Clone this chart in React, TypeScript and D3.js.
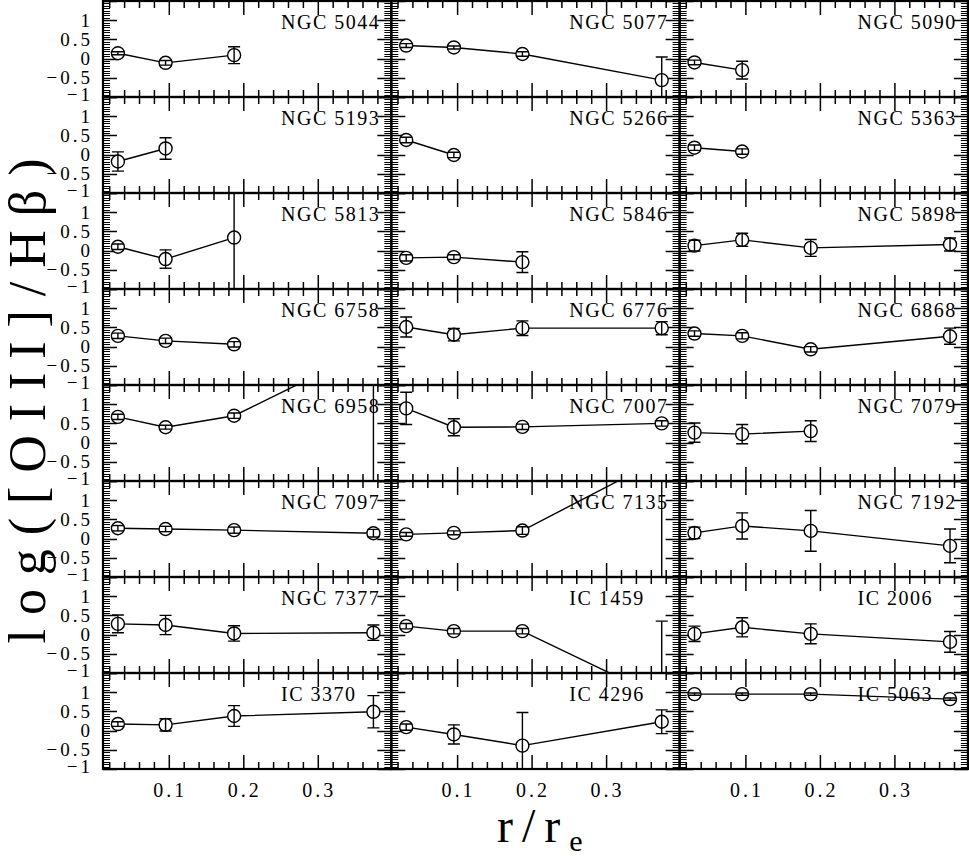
import React, { useEffect, useRef } from 'react'
import * as d3 from 'd3'

// one panel per galaxy, read left to right, top to bottom
const galaxies = [
  'NGC 5044', 'NGC 5077', 'NGC 5090',
  'NGC 5193', 'NGC 5266', 'NGC 5363',
  'NGC 5813', 'NGC 5846', 'NGC 5898',
  'NGC 6758', 'NGC 6776', 'NGC 6868',
  'NGC 6958', 'NGC 7007', 'NGC 7079',
  'NGC 7097', 'NGC 7135', 'NGC 7192',
  'NGC 7377', 'IC 1459', 'IC 2006',
  'IC 3370', 'IC 4296', 'IC 5063',
]

// r / r_e of the apertures
const radii = [0.031, 0.095, 0.187, 0.374]

// log([OIII]/Hb) per galaxy, one value per aperture
const logRatio = [
  [0.14, -0.11, 0.09],
  [0.34, 0.29, 0.12, -0.56],
  [-0.10, -0.30],
  [-0.18, 0.16],
  [0.38, -0.01],
  [0.18, 0.08],
  [0.10, -0.22, 0.34],
  [-0.19, -0.17, -0.30],
  [0.13, 0.28, 0.07, 0.16],
  [0.28, 0.15, 0.06],
  [0.51, 0.31, 0.48, 0.48],
  [0.34, 0.28, -0.07, 0.27],
  [0.67, 0.40, 0.70, 2.48],
  [0.89, 0.40, 0.41, 0.50],
  [0.26, 0.22, 0.30],
  [0.27, 0.25, 0.22, 0.14],
  [0.11, 0.15, 0.21, 2.09],
  [0.15, 0.33, 0.20, -0.19],
  [0.28, 0.25, 0.03, 0.05],
  [0.22, 0.09, 0.09, -1.65],
  [0.02, 0.19, 0.02, -0.19],
  [0.17, 0.15, 0.38, 0.49],
  [0.09, -0.10, -0.39, 0.23],
  [0.95, 0.95, 0.95, 0.82],
]

const logRatioErr = [
  [0.04, 0.06, 0.22],
  [0.05, 0.04, 0.06, 0.6],
  [0.06, 0.23],
  [0.25, 0.28],
  [0.07, 0.07],
  [0.07, 0.07],
  [0.07, 0.24, 2.5],
  [0.08, 0.06, 0.27],
  [0.14, 0.17, 0.22, 0.17],
  [0.07, 0.07, 0.07],
  [0.26, 0.16, 0.19, 0.17],
  [0.07, 0.08, 0.07, 0.21],
  [0.07, 0.05, 0.07, 4.0],
  [0.42, 0.22, 0.07, 0.07],
  [0.25, 0.25, 0.27],
  [0.07, 0.07, 0.08, 0.1],
  [0.05, 0.05, 0.1, 3.5],
  [0.15, 0.34, 0.53, 0.44],
  [0.23, 0.25, 0.2, 0.2],
  [0.07, 0.07, 0.07, 2.0],
  [0.2, 0.25, 0.26, 0.27],
  [0.06, 0.16, 0.27, 0.42],
  [0.08, 0.25, 0.86, 0.31],
  [0.03, 0.03, 0.03, 0.03],
]

const xTickLabels = [0.1, 0.2, 0.3]
const yTickLabels = [-1, -0.5, 0, 0.5, 1]

const W = 969
const H = 859
const left = 103
const top = 1
const colW = 288.3
const rowH = 96
const nCols = 3
const nRows = 8
const font = '"Liberation Serif", "DejaVu Serif", serif'

function fmt(v: number) {
  return (v < 0 ? '\u2212' : '') + String(Math.abs(v))
}

export default function App() {
  const ref = useRef<SVGSVGElement>(null)

  useEffect(() => {
    const svg = d3.select(ref.current)
    svg.selectAll('*').remove()

    const x = d3.scaleLinear().domain([0.011, 0.398]).range([0, colW])
    const y = d3.scaleLinear().domain([-1, 1.5]).range([rowH, 0])

    const xMinor = d3.range(0.02, 0.39, 0.02)
    const yMinor = d3.range(-1, 1.51, 0.0625)
    const yMajor = [-1, -0.5, 0, 0.5, 1, 1.5]

    svg.append('defs').append('clipPath')
      .attr('id', 'panel-clip')
      .append('rect')
      .attr('width', colW)
      .attr('height', rowH)

    galaxies.forEach((name, i) => {
      const col = i % nCols
      const row = Math.floor(i / nCols)
      const g = svg.append('g')
        .attr('transform', `translate(${left + col * colW},${top + row * rowH})`)

      // ticks, all pointing inward from the four sides
      const ticks = g.append('g').attr('stroke', '#000')
      xMinor.forEach(t => {
        const major = Math.abs(t * 10 - Math.round(t * 10)) < 1e-6
        const len = major ? 14 : 7
        ticks.append('line').attr('x1', x(t)).attr('x2', x(t)).attr('y1', rowH).attr('y2', rowH - len)
          .attr('stroke-width', 1.5)
        ticks.append('line').attr('x1', x(t)).attr('x2', x(t)).attr('y1', 0).attr('y2', len)
          .attr('stroke-width', 1.5)
      })
      yMinor.forEach(t => {
        const major = yMajor.some(m => Math.abs(m - t) < 1e-6)
        const len = major ? 14 : 7
        const yy = Math.round(y(t)) + 0.5
        ticks.append('line').attr('x1', 0).attr('x2', len).attr('y1', yy).attr('y2', yy)
          .attr('stroke-width', major ? 1.5 : 1)
        ticks.append('line').attr('x1', colW).attr('x2', colW - len).attr('y1', yy).attr('y2', yy)
          .attr('stroke-width', major ? 1.5 : 1)
      })

      g.append('rect')
        .attr('width', colW)
        .attr('height', rowH)
        .attr('fill', 'none')
        .attr('stroke', '#000')
        .attr('stroke-width', 2.2)

      // data
      const pts = logRatio[i].map((v, k) => ({ r: radii[k], v, e: logRatioErr[i][k] }))
      const data = g.append('g').attr('clip-path', 'url(#panel-clip)')
      data.append('path')
        .attr('d', d3.line<any>().x(d => x(d.r)).y(d => y(d.v))(pts))
        .attr('fill', 'none')
        .attr('stroke', '#000')
        .attr('stroke-width', 1.4)
      pts.forEach(p => {
        data.append('circle')
          .attr('cx', x(p.r))
          .attr('cy', y(p.v))
          .attr('r', 6.5)
          .attr('fill', '#fff')
          .attr('stroke', '#000')
          .attr('stroke-width', 1.4)
        const bar = data.append('g').attr('stroke', '#000').attr('stroke-width', 1.4)
        bar.append('line')
          .attr('x1', x(p.r)).attr('x2', x(p.r))
          .attr('y1', y(p.v - p.e)).attr('y2', y(p.v + p.e))
        ;[p.v - p.e, p.v + p.e].forEach(c => {
          bar.append('line')
            .attr('x1', x(p.r) - 6).attr('x2', x(p.r) + 6)
            .attr('y1', y(c)).attr('y2', y(c))
        })
      })

      g.append('text')
        .attr('x', 178)
        .attr('y', 28)
        .attr('font-family', font)
        .attr('font-size', 20)
        .attr('letter-spacing', 1.5)
        .text(name)

      if (col === 0) {
        yTickLabels.forEach(t => {
          g.append('text')
            .attr('x', -10)
            .attr('y', t === -1 ? y(t) - 3 : y(t))
            .attr('dy', '0.35em')
            .attr('text-anchor', 'end')
            .attr('font-family', font)
            .attr('font-size', 19)
            .attr('letter-spacing', 3)
            .text(fmt(t))
        })
      }
      if (row === nRows - 1) {
        xTickLabels.forEach(t => {
          g.append('text')
            .attr('x', x(t) + 1)
            .attr('y', rowH + 28)
            .attr('text-anchor', 'middle')
            .attr('font-family', font)
            .attr('font-size', 20)
            .attr('letter-spacing', 3)
            .text(String(t))
        })
      }
    })

    // axis titles
    svg.append('text')
      .attr('transform', `translate(45,${top + (nRows * rowH) / 2 + 16}) rotate(-90)`)
      .attr('text-anchor', 'middle')
      .attr('font-family', font)
      .attr('font-size', 52)
      .attr('textLength', 485)
      .attr('lengthAdjust', 'spacing')
      .text('log([OIII]/H\u03b2)')

    const xt = svg.append('text')
      .attr('x', 497)
      .attr('y', 842)
      .attr('font-family', font)
      .attr('font-size', 48)
      .attr('letter-spacing', 9)
    xt.append('tspan').text('r/r')
    xt.append('tspan').attr('font-size', 30).attr('dy', 9).text('e')
  }, [])

  return (
    <svg
      ref={ref}
      width={W}
      height={H}
      style={{ position: 'absolute', left: 0, top: 0, background: '#fff' }}
    />
  )
}
